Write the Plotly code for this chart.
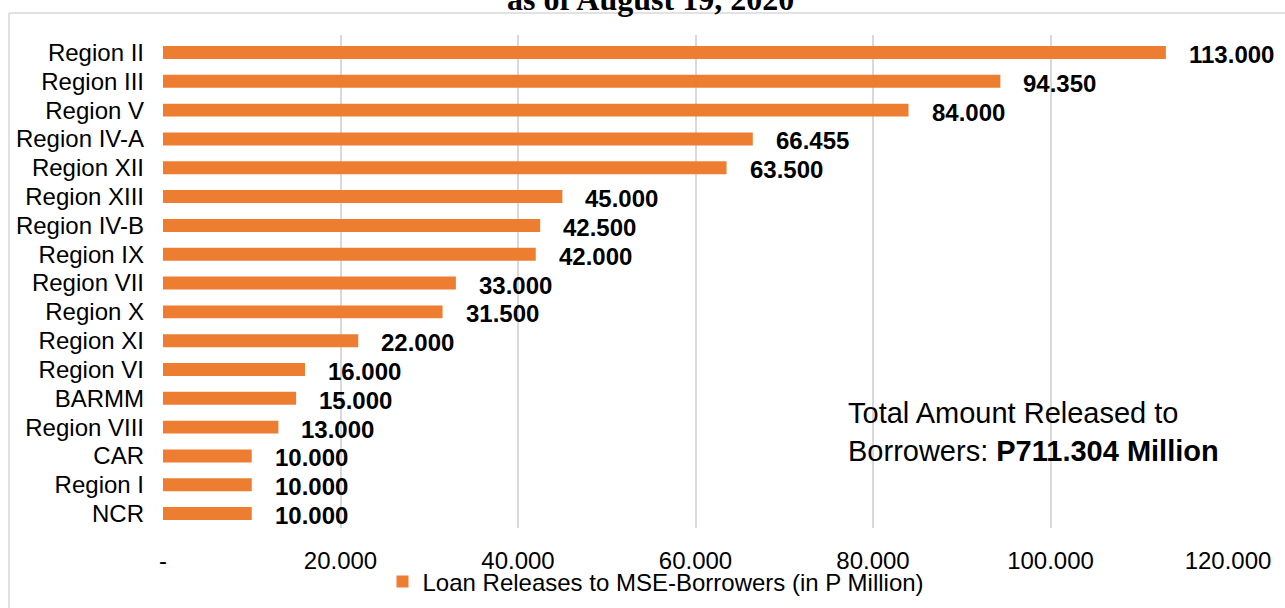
import plotly.graph_objects as go

# ---- data ----
regions = ["Region II", "Region III", "Region V", "Region IV-A", "Region XII",
           "Region XIII", "Region IV-B", "Region IX", "Region VII", "Region X",
           "Region XI", "Region VI", "BARMM", "Region VIII", "CAR", "Region I", "NCR"]
loans = [113.0, 94.35, 84.0, 66.455, 63.5, 45.0, 42.5, 42.0, 33.0, 31.5,
         22.0, 16.0, 15.0, 13.0, 10.0, 10.0, 10.0]
tick_vals = [0, 20, 40, 60, 80, 100, 120]
tick_text = ["-", "20.000", "40.000", "60.000", "80.000", "100.000", "120.000"]
series_name = "Loan Releases to MSE-Borrowers (in P Million)"
title_text = "as of August 19, 2020"
note_text = "Total Amount Released to<br>Borrowers: <b>P711.304 Million</b>"

ORANGE = "#ED7D31"
GRID = "#D9D9D9"
FONT = "Liberation Sans, Arial, sans-serif"

W, H = 1285, 608
L, R, T, B = 163, 57, 35, 80
pw, ph = W - L - R, H - T - B

def px_x(p):
    return (p - L) / pw

def px_y(p):
    return (H - B - p) / ph

fig = go.Figure()
fig.add_trace(go.Bar(
    y=regions, x=loans, orientation="h", name=series_name,
    marker=dict(color=ORANGE, line=dict(width=0)),
    width=0.45, showlegend=True,
))

annotations = []
for r, v in zip(regions, loans):
    annotations.append(dict(
        x=v, y=r, xref="x", yref="y", text=f"<b>{v:.3f}</b>",
        showarrow=False, xanchor="left", yanchor="middle", xshift=21, yshift=-2,
        font=dict(family=FONT, size=24, color="#000000"),
    ))

annotations.append(dict(
    x=px_x(650), y=px_y(-1), xref="paper", yref="paper", text=f"<b>{title_text}</b>",
    showarrow=False, xanchor="center", yanchor="middle",
    font=dict(family="Liberation Serif, DejaVu Serif, serif", size=32, color="#000000"),
))
annotations.append(dict(
    x=px_x(846), y=px_y(395), xref="paper", yref="paper", text=note_text,
    showarrow=False, xanchor="left", yanchor="top", align="left",
    font=dict(family=FONT, size=29, color="#000000"),
))

shapes = [
    dict(type="line", xref="paper", yref="paper", x0=px_x(9), x1=px_x(1290),
         y0=px_y(13), y1=px_y(13), line=dict(color=GRID, width=1.5)),
    dict(type="line", xref="paper", yref="paper", x0=px_x(9), x1=px_x(9),
         y0=px_y(13), y1=px_y(612), line=dict(color=GRID, width=1.5)),
]

fig.update_layout(
    width=W, height=H,
    margin=dict(l=L, r=R, t=T, b=B, pad=0),
    paper_bgcolor="white", plot_bgcolor="white",
    font=dict(family=FONT, size=24, color="#000000"),
    showlegend=True,
    legend=dict(orientation="h", xref="container", yref="container",
                x=656 / W, xanchor="center", y=(H - 582) / H, yanchor="middle",
                font=dict(family=FONT, size=24, color="#000000"),
                bgcolor="rgba(0,0,0,0)", itemsizing="constant"),
    xaxis=dict(range=[0, 120], tickmode="array", tickvals=tick_vals, ticktext=tick_text,
               showgrid=True, gridcolor=GRID, gridwidth=1.5, zeroline=False,
               showline=False, ticks="", ticklabelstandoff=16, automargin=False,
               tickfont=dict(family=FONT, size=24, color="#000000")),
    yaxis=dict(categoryorder="array", categoryarray=regions, autorange="reversed",
               tickmode="array", tickvals=regions, ticktext=regions,
               showgrid=False, zeroline=False, showline=False, ticks="",
               ticklabelstandoff=18, automargin=False,
               tickfont=dict(family=FONT, size=24, color="#000000")),
    annotations=annotations,
    shapes=shapes,
    bargap=0.55,
)

fig.write_html("out.html", config={"displayModeBar": False},
               post_script="document.body.style.margin='0';document.body.style.overflow='hidden';")
